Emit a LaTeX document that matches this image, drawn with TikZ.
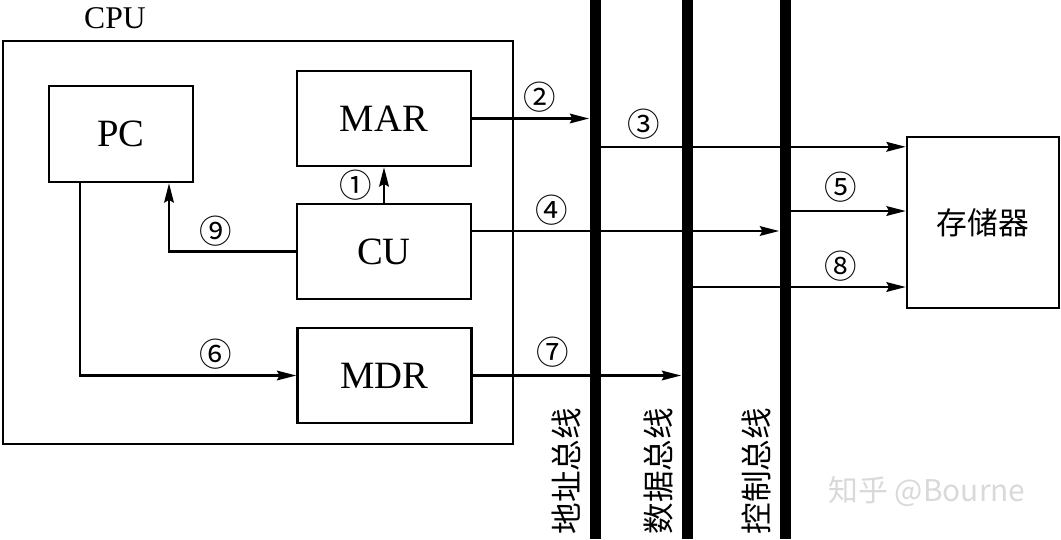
\documentclass[tikz,border=0pt]{standalone}
\usepackage{fontspec}
\setmainfont{Liberation Serif}
\newfontfamily\cjk{Noto Sans CJK SC}
\usetikzlibrary{arrows.meta,calc,positioning}
\tikzset{
  unit/.style={draw, line width=1.4pt, minimum width=3.48cm, minimum height=1.9cm, font=\fontsize{22}{22}\selectfont},
  bus/.style={fill=black, inner sep=0pt, minimum width=0.22cm, minimum height=10.78cm},
  sig/.style={-{Stealth[length=11pt,width=5.5pt,inset=1.5pt]}, line width=1.4pt},
  num/.style={font=\cjk\fontsize{18.5}{18.5}\selectfont, inner sep=0pt},
  buslabel/.style={rotate=90, font=\cjk\fontsize{18}{18}\selectfont, inner sep=0pt}
}

\begin{document}
\begin{tikzpicture}[x=0.02cm, y=-0.02cm]
  \useasboundingbox (0,0) rectangle (1061,539);
  % CPU and its registers
  \node[draw, line width=1.4pt, minimum width=10.2cm, minimum height=8.06cm] (cpubox) at (258,242.5) {};
  \node[font=\fontsize{18}{18}\selectfont] (cpu) at (115,18) {CPU};
  \node[unit, minimum width=2.88cm, minimum height=1.92cm] (pc) at (121,134) {PC};
  \node[unit] (mar) at (384,118.5) {MAR};
  \node[unit] (cu) at (384,251.5) {CU};
  \node[unit] (mdr) at (384.5,375.5) {MDR};
  \node[unit, minimum width=3.04cm, minimum height=3.42cm, font=\cjk\fontsize{17.5}{17.5}\selectfont] (mem) at (983,222.5) {存储器};
  % buses
  \node[bus] (abus) at (595,269.5) {};
  \node[bus] (dbus) at (687,269.5) {};
  \node[bus] (cbus) at (785,269.5) {};
  \node[buslabel] (alab) at (566,471) {地址总线};
  \node[buslabel] (dlab) at (658,471) {数据总线};
  \node[buslabel] (clab) at (756,471) {控制总线};
  % signals
  \coordinate (m3) at ($(mem.north west)+(0,11)$);
  \coordinate (m5) at ($(mem.west)+(0,-11.5)$);
  \coordinate (m8) at ($(mem.west)+(0,64.5)$);
  \coordinate (c4) at ($(cu.east)+(0,-20.5)$);
  \draw[sig] (cu.north) -- (mar.south);
  \draw[sig] (mar.east) -- (mar.east -| abus.west);
  \draw[sig] (abus.east |- m3) -- (m3);
  \draw[sig] (c4) -- (c4 -| cbus.west);
  \draw[sig] (cbus.east |- m5) -- (m5);
  \draw[sig] ($(pc.south)+(-41,0)$) |- (mdr.west);
  \draw[sig] (mdr.east) -- (mdr.east -| dbus.west);
  \draw[sig] (dbus.east |- m8) -- (m8);
  \draw[sig] (cu.west) -| ($(pc.south)+(48,0)$);
  \node[num] (n1) at (356,185) {①};
  \node[num] (n2) at (540,97) {②};
  \node[num] (n3) at (644,124) {③};
  \node[num] (n4) at (552,210) {④};
  \node[num] (n5) at (841,187) {⑤};
  \node[num] (n6) at (216,354) {⑥};
  \node[num] (n7) at (553,352) {⑦};
  \node[num] (n8) at (841,266) {⑧};
  \node[num] (n9) at (216,231) {⑨};
  \node[font=\cjk\fontsize{17}{17}\selectfont, text=gray!30] (mark) at (927,492) {知乎 @Bourne};
\end{tikzpicture}
\end{document}
